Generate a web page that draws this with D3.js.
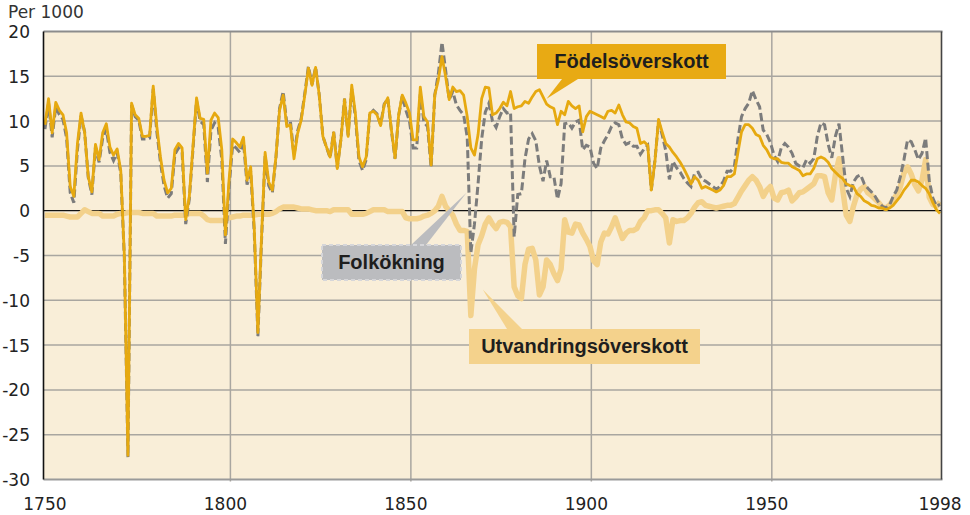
<!DOCTYPE html>
<html>
<head>
<meta charset="utf-8">
<script src="https://cdn.jsdelivr.net/npm/d3@7"></script>
<style>
body { margin: 0; background: #fff; }
svg { display: block; }
</style>
</head>
<body>
<div id="chart"></div>
<script>
// yearly values 1750-1998, per 1000 inhabitants
var firstYear = 1750, lastYear = 1998;

var fodelseoverskott = [
	9.6,12.5,8.7,12.1,11.2,10.7,8.7,2.7,1.6,7.5,
	10.9,8.7,3.8,2.1,7.4,5.7,8.7,9.7,7.1,6.2,
	6.9,4.5,-5.0,-27.3,12.0,10.7,10.3,8.3,8.3,8.4,
	13.9,9.4,6.0,3.4,2.0,2.5,6.8,7.5,7.0,-1.0,
	1.6,7.1,12.6,10.3,10.2,4.2,10.1,10.9,10.4,6.8,
	-2.7,3.4,8.0,7.6,7.1,8.2,3.4,4.9,-2.0,-13.6,
	-3.0,6.5,3.2,2.3,6.0,11.2,12.9,9.4,9.6,5.8,
	8.6,10.1,12.9,15.9,14.0,16.0,12.9,8.3,7.1,6.0,
	8.7,4.7,7.9,12.4,8.3,14.0,10.9,6.0,4.9,6.0,
	10.9,11.1,10.7,9.5,11.8,12.6,9.0,5.9,10.7,12.9,
	12.0,10.9,7.9,7.9,13.8,10.5,9.9,5.1,12.9,14.6,
	17.2,15.0,12.4,13.8,13.3,13.4,12.9,10.5,7.0,6.2,
	8.5,12.5,13.8,13.7,10.7,10.9,11.4,12.1,11.7,13.3,
	11.4,11.6,11.7,12.2,12.0,12.7,13.3,13.5,12.7,11.9,
	11.6,11.4,9.6,11.1,10.7,12.2,11.7,11.4,11.7,8.8,
	10.5,11.1,10.9,10.7,10.5,10.3,11.1,11.2,10.9,11.8,
	10.7,9.9,9.8,9.4,9.2,7.5,7.7,7.3,2.3,5.5,
	10.2,8.8,7.5,7.1,6.5,6.0,5.4,4.7,3.9,3.0,
	3.8,3.4,2.5,2.7,2.5,2.3,2.1,2.3,2.8,3.8,
	3.8,4.1,6.5,8.8,9.6,9.6,9.2,8.5,8.3,7.3,
	6.8,6.0,5.8,5.8,5.4,5.3,5.3,4.9,4.7,4.5,
	3.9,4.1,4.1,4.7,5.8,6.0,5.8,5.4,4.7,4.3,
	3.9,3.6,3.0,2.8,2.7,1.9,1.6,1.1,0.9,0.6,
	0.5,0.3,0.3,0.1,0.3,0.6,1.1,1.6,2.3,2.8,
	3.4,3.4,3.2,2.8,2.5,1.9,0.9,0.1,-0.3
];

var folkokning = [
	9.1,12.0,8.2,11.6,10.7,10.2,8.1,2.0,0.9,6.8,
	10.6,8.8,3.7,1.8,7.1,5.4,8.1,9.1,6.5,5.6,
	6.5,4.2,-5.3,-27.5,11.8,10.5,10.1,8.0,8.0,8.1,
	13.6,8.8,5.4,2.8,1.4,1.9,6.3,7.0,6.5,-1.5,
	1.3,6.8,12.3,10.0,9.6,3.2,9.0,9.8,9.3,5.7,
	-3.7,2.6,7.3,7.0,6.5,7.7,2.9,4.4,-2.5,-14.0,
	-3.4,6.1,2.8,2.0,5.9,11.4,13.3,9.8,10.0,6.2,
	8.9,10.3,13.1,16.1,14.1,16.0,12.9,8.3,7.1,5.9,
	8.8,4.8,8.0,12.5,8.4,13.6,10.5,5.6,4.5,5.7,
	10.8,11.2,10.8,9.6,11.9,12.5,8.9,5.8,10.6,12.8,
	11.2,10.0,7.0,7.0,13.0,9.9,9.4,4.8,12.9,15.3,
	18.8,15.7,12.4,13.3,11.8,11.2,10.7,8.2,-4.7,-1.5,
	3.0,8.0,11.0,12.0,10.0,9.3,10.5,11.4,10.9,11.0,
	-2.9,1.8,1.9,5.8,8.0,8.6,7.8,5.0,3.3,5.6,
	3.8,3.8,1.3,3.0,9.7,9.8,9.2,9.9,10.1,6.8,
	7.3,7.1,5.3,4.7,7.0,7.8,8.5,9.4,9.8,9.6,
	8.0,7.4,7.6,7.2,7.2,6.3,6.9,7.3,2.3,5.6,
	10.0,8.5,6.7,3.5,5.5,4.8,4.3,3.6,3.1,2.7,
	4.2,4.3,3.5,3.3,3.0,2.7,2.4,2.7,3.3,4.4,
	4.4,4.9,8.0,10.5,11.4,12.0,13.4,12.4,11.6,9.0,
	8.5,7.6,6.2,5.5,7.0,7.5,7.1,6.4,5.3,5.0,
	4.8,5.7,5.3,5.8,8.3,9.8,9.6,7.4,5.9,8.3,
	9.7,6.1,2.5,1.6,3.2,3.8,4.0,3.0,2.5,2.1,
	1.6,0.9,0.5,0.3,0.6,1.6,2.3,3.8,5.7,7.9,
	7.7,6.8,5.7,6.4,8.1,3.4,1.4,0.5,0.7
];

var utvandringsoverskott = [
	-0.5,-0.5,-0.5,-0.5,-0.5,-0.5,-0.6,-0.7,-0.7,-0.7,
	-0.3,0.1,-0.1,-0.3,-0.3,-0.3,-0.6,-0.6,-0.6,-0.6,
	-0.4,-0.3,-0.3,-0.2,-0.2,-0.2,-0.2,-0.3,-0.3,-0.3,
	-0.3,-0.6,-0.6,-0.6,-0.6,-0.6,-0.5,-0.5,-0.5,-0.5,
	-0.3,-0.3,-0.3,-0.3,-0.6,-1.0,-1.1,-1.1,-1.1,-1.1,
	-1.0,-0.8,-0.7,-0.6,-0.6,-0.5,-0.5,-0.5,-0.5,-0.4,
	-0.4,-0.4,-0.4,-0.3,-0.1,0.2,0.4,0.4,0.4,0.4,
	0.3,0.2,0.2,0.2,0.1,0.0,0.0,0.0,0.0,-0.1,
	0.1,0.1,0.1,0.1,0.1,-0.4,-0.4,-0.4,-0.4,-0.3,
	-0.1,0.1,0.1,0.1,0.1,-0.1,-0.1,-0.1,-0.1,-0.1,
	-0.8,-0.9,-0.9,-0.9,-0.8,-0.6,-0.5,-0.3,0.0,0.5,
	1.6,0.5,0.0,-0.5,-1.5,-2.2,-2.2,-2.3,-11.7,-6.5,
	-3.8,-2.8,-1.5,-0.8,-1.5,-2.0,-1.3,-1.2,-1.3,-1.8,
	-8.5,-9.5,-9.8,-6.0,-4.3,-4.2,-5.5,-9.4,-8.5,-5.5,
	-6.0,-7.0,-7.8,-6.5,-1.0,-2.4,-2.5,-1.5,-1.6,-2.5,
	-3.2,-4.0,-5.6,-6.0,-3.5,-2.5,-2.6,-1.8,-0.8,-2.0,
	-3.1,-2.5,-2.2,-2.2,-2.0,-1.2,-0.8,0.0,0.0,0.1,
	0.1,-0.3,-0.8,-3.6,-1.0,-1.2,-1.1,-1.1,-0.8,-0.3,
	0.4,0.9,1.0,0.6,0.5,0.4,0.3,0.4,0.5,0.6,
	0.6,0.8,1.5,2.2,2.8,3.4,3.8,3.4,2.7,1.6,
	2.3,2.7,1.4,1.2,2.0,2.1,2.3,1.1,1.5,2.0,
	2.1,2.4,2.7,3.0,3.9,3.9,3.8,2.0,1.2,4.0,
	5.8,2.5,-0.5,-1.2,0.5,1.8,2.4,2.7,2.0,1.7,
	1.3,0.9,0.4,0.3,0.6,1.2,1.8,2.7,4.2,4.9,
	4.1,2.9,2.2,3.4,5.7,1.5,0.7,0.5,1.0
];

var yTicks = [20, 15, 10, 5, 0, -5, -10, -15, -20, -25, -30];
var xTickYears = [1750, 1800, 1850, 1900, 1950, 1998];
var gridYears = [1800, 1850, 1900, 1950];

var width = 970, height = 515;
var plotLeft = 43.5, plotRight = 941.5, plotTop = 31.5, plotBottom = 479.5;

var svg = d3.select("#chart").append("svg")
	.attr("width", width)
	.attr("height", height);

var x = d3.scaleLinear().domain([1749.6, 1998.4]).range([plotLeft, plotRight]);
var y = d3.scaleLinear().domain([-30, 20]).range([plotBottom, plotTop]);

var years = d3.range(firstYear, lastYear + 1);

// plot background
svg.append("rect")
	.attr("x", plotLeft).attr("y", plotTop)
	.attr("width", plotRight - plotLeft).attr("height", plotBottom - plotTop)
	.style("fill", "#f9eed8");

// horizontal grid
svg.selectAll(".hgrid")
	.data(yTicks.filter(function (d) { return d != 20 && d != -30 && d != 0; }))
	.enter().append("line")
	.attr("x1", plotLeft).attr("x2", plotRight)
	.attr("y1", function (d) { return y(d); })
	.attr("y2", function (d) { return y(d); })
	.style("stroke", "#a9a6a0")
	.style("stroke-width", 1.5);

// vertical grid (drawn a little right of the label position, as in the original)
svg.selectAll(".vgrid")
	.data(gridYears)
	.enter().append("line")
	.attr("x1", function (d) { return x(d) + 5; })
	.attr("x2", function (d) { return x(d) + 5; })
	.attr("y1", plotTop).attr("y2", plotBottom + 2)
	.style("stroke", "#a9a6a0")
	.style("stroke-width", 1.5);

// zero line
svg.append("line")
	.attr("x1", plotLeft).attr("x2", plotRight)
	.attr("y1", y(0)).attr("y2", y(0))
	.style("stroke", "#111")
	.style("stroke-width", 1.2);

function series(values) {
	return values.map(function (v, i) { return [years[i], v]; });
}

var line = d3.line()
	.x(function (d) { return x(d[0]); })
	.y(function (d) { return y(d[1]); });

svg.append("path")
	.attr("d", line(series(utvandringsoverskott)))
	.style("fill", "none")
	.style("stroke", "#f3d18b")
	.style("stroke-width", 5.5)
	.style("stroke-linejoin", "round");

svg.append("path")
	.attr("d", line(series(folkokning)))
	.style("fill", "none")
	.style("stroke", "#7c7c7c")
	.style("stroke-width", 3)
	.style("stroke-dasharray", "8,3.5");

svg.append("path")
	.attr("d", line(series(fodelseoverskott)))
	.style("fill", "none")
	.style("stroke", "#e6a910")
	.style("stroke-width", 2.8)
	.style("stroke-linejoin", "round");

// frame
svg.append("line").attr("x1", plotLeft).attr("x2", plotRight + 1).attr("y1", plotTop).attr("y2", plotTop)
	.style("stroke", "#8c8c8c").style("stroke-width", 2);
svg.append("line").attr("x1", plotLeft).attr("x2", plotRight + 1).attr("y1", plotBottom).attr("y2", plotBottom)
	.style("stroke", "#9a9a9a").style("stroke-width", 2);
svg.append("line").attr("x1", plotLeft).attr("x2", plotLeft).attr("y1", plotTop).attr("y2", plotBottom)
	.style("stroke", "#111").style("stroke-width", 1.6);
svg.append("line").attr("x1", plotRight).attr("x2", plotRight).attr("y1", plotTop).attr("y2", plotBottom)
	.style("stroke", "#444").style("stroke-width", 1.6);

// tick labels
svg.selectAll(".ylab")
	.data(yTicks)
	.enter().append("text")
	.attr("x", 30)
	.attr("y", function (d) { return y(d) + 6.5; })
	.attr("text-anchor", "end")
	.style("font-family", "'DejaVu Sans', sans-serif")
	.style("font-size", "17px")
	.style("fill", "#222")
	.text(function (d) { return d; });

svg.selectAll(".xlab")
	.data(xTickYears)
	.enter().append("text")
	.attr("x", function (d) { return x(d); })
	.attr("y", 510)
	.attr("text-anchor", "middle")
	.style("font-family", "'DejaVu Sans', sans-serif")
	.style("font-size", "17px")
	.style("fill", "#222")
	.text(function (d) { return d; });

svg.append("text")
	.attr("x", 8).attr("y", 18)
	.style("font-family", "'DejaVu Sans', sans-serif")
	.style("font-size", "17px")
	.style("fill", "#333")
	.text("Per 1000");

// labels with pointers
var notes = [
	{text: "Födelsöverskott", bx: 537, by: 44, bw: 189, bh: 35, fill: "#e8aa14",
	 base: [562, 578, 79], tip: [1889, 12.5]},
	{text: "Folkökning", bx: 322, by: 245, bw: 139, bh: 35, fill: "#bbbcbf", dashed: true,
	 base: [411, 426, 245], tip: [1866.8, 2]},
	{text: "Utvandringsöverskott", bx: 469, by: 329, bw: 231, bh: 35, fill: "#f4d28c",
	 base: [507, 522, 329], tip: [1871.3, -8.8]}
];

notes.forEach(function (n) {
	svg.append("polygon")
		.attr("points", [[n.base[0], n.base[2]], [n.base[1], n.base[2]], [x(n.tip[0]), y(n.tip[1])]].join(" "))
		.style("fill", n.fill);
	var r = svg.append("rect")
		.attr("x", n.bx).attr("y", n.by)
		.attr("width", n.bw).attr("height", n.bh)
		.style("fill", n.fill);
	if (n.dashed) {
		r.style("stroke", "#d6d6d9").style("stroke-width", 2).style("stroke-dasharray", "4,3");
	}
	svg.append("text")
		.attr("x", n.bx + n.bw / 2)
		.attr("y", n.by + 23.5)
		.attr("text-anchor", "middle")
		.style("font-family", "'Liberation Sans', Arial, sans-serif")
		.style("font-weight", "bold")
		.style("font-size", "20px")
		.style("fill", "#1e1e1e")
		.text(n.text);
});
</script>
</body>
</html>
